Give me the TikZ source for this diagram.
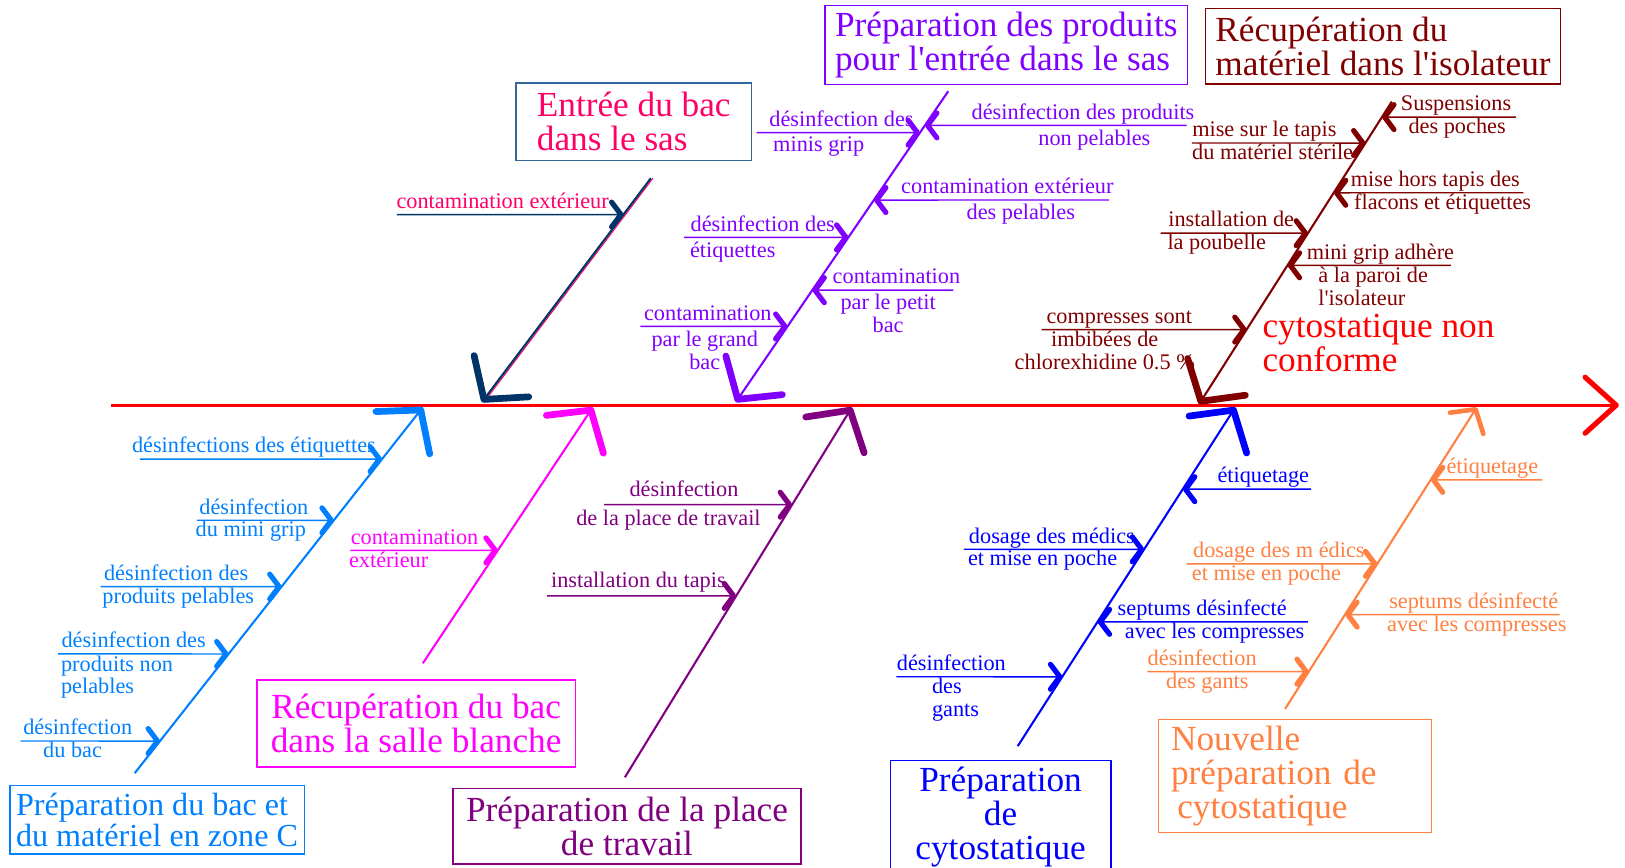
\documentclass[tikz,border=0pt]{standalone}
\usepackage{fontspec}
\setmainfont{Liberation Serif}
\usetikzlibrary{arrows.meta}

\definecolor{spinered}{HTML}{FF0000}
\definecolor{navyb}{HTML}{003366}
\definecolor{navyframe}{HTML}{336699}
\definecolor{rosered}{HTML}{FF0066}
\definecolor{violetb}{HTML}{8000FF}
\definecolor{brownb}{HTML}{800000}
\definecolor{azureb}{HTML}{0080FF}
\definecolor{magentab}{HTML}{FF00FF}
\definecolor{purpleb}{HTML}{800080}
\definecolor{blueb}{HTML}{0000FF}
\definecolor{orangeb}{HTML}{FF8040}

\newcommand{\bigtxt}{\fontsize{34}{33}\selectfont}
\newcommand{\smalltxt}{\fontsize{21.5}{22}\selectfont}
\newcommand{\leftlines}[1]{\begin{tabular}{@{}l@{}}#1\end{tabular}}

\begin{document}
\begin{tikzpicture}[x=1pt, y=-1pt,
    bone/.style={line width=2pt, -{Straight Barb[length=28pt,width=66pt,line width=6.5pt,round]}},
    smallbone/.style={line width=2pt, -{Straight Barb[length=16pt,width=38pt,line width=4.5pt,round]}},
    twig/.style={line width=1.4pt, -{Straight Barb[length=9pt,width=24pt,line width=5pt,round]}},
    cause/.style={draw, line width=1.3pt, font=\bigtxt, inner sep=6pt},
    lbl/.style={font=\smalltxt, inner sep=0pt, align=center}
]
\useasboundingbox (0,0) rectangle (1568,837);
\clip (0,0) rectangle (1568,837);

% spine and effect
\coordinate (start) at (107,391);
\coordinate (effectpt) at (1562,391);
\draw[spinered, line width=3pt, -{Straight Barb[length=30pt,width=54pt,line width=5pt,round]}] (start) -- (effectpt);
\node[font=\bigtxt, text=spinered, align=left, anchor=north west, inner sep=0pt] (effect) at (1218,303) {cytostatique non\\conforme};

% boxes
\node[cause, draw=navyframe, text=rosered, minimum width=227pt, minimum height=75pt, align=left] (sasbox) at (611.5,117.5) {Entrée du bac\\dans le sas};
\node[cause, draw=violetb, text=violetb, minimum width=350pt, minimum height=71pt, align=left] (prodbox) at (971,43.5) {Préparation des produits\\pour l\textquotesingle entrée dans le sas};
\node[cause, draw=brownb, text=brownb, minimum width=343pt, minimum height=73pt, align=left] (isobox) at (1334.5,44.5) {Récupération du\\matériel dans l\textquotesingle isolateur};
\node[cause, draw=azureb, text=azureb, minimum width=283pt, minimum height=66pt, align=left, font=\fontsize{31}{30}\selectfont] (bacbox) at (151.5,791) {Préparation du bac et\\du matériel en zone C};
\node[cause, draw=magentab, text=magentab, minimum width=307pt, minimum height=84pt, align=center] (blanchebox) at (401.5,698) {Récupération du bac\\dans la salle blanche};
\node[cause, draw=purpleb, text=purpleb, minimum width=336pt, inner ysep=8pt, anchor=north, align=center] (placebox) at (605,760) {Préparation de la place\\de travail};
\node[cause, draw=blueb, text=blueb, minimum width=213pt, inner ysep=6pt, anchor=north, align=center] (cytobox) at (965.5,733) {Préparation\\de\\cytostatique};
\node[cause, draw=orangeb, text=orangeb, text width=239pt, inner xsep=12pt, minimum height=106pt, align=left] (newbox) at (1249.5,749) {Nouvelle\\préparation de\\\hspace*{6pt}cytostatique};

% Entree du bac dans le sas
\coordinate (sastop) at (628,172);
\coordinate (sashead) at (465,388);
\draw[rosered, line width=1pt, transform canvas={xshift=2pt}] (sastop) -- (sashead);
\draw[bone, navyb] (sastop) -- (sashead);
\coordinate (sas1) at (383,207);
\coordinate (sasb1) at (intersection of sastop--sashead and 0,207--1568,207);
\draw[twig, navyb] (sas1) -- (sasb1);
\node[lbl, rosered, anchor=base] (sasu1) at (485,201) {contamination extérieur};

% Preparation des produits
\coordinate (prodtop) at (915,88);
\coordinate (prodhead) at (710,388);
\draw[bone, violetb] (prodtop) -- (prodhead);
\foreach \y/\xs/\xa/\ta/\xb/\tb [count=\i] in {
    128/730/812/{désinfection des}/790/{minis grip},
    229/660/736/{désinfection des}/707/{étiquettes},
    315/618/683/{contamination}/680/{par le grand\\bac},
    121/1145/1045/{désinfection des produits}/1056/{non pelables},
    193/1070/972/{contamination extérieur}/985/{des pelables},
    280/920/865/{contamination}/857/{par le petit\\bac}}{
  \coordinate (prod\i) at (\xs,\y);
  \coordinate (prodb\i) at (intersection of prodtop--prodhead and 0,\y--1568,\y);
  \draw[twig, violetb] (prod\i) -- (prodb\i);
  \node[lbl, violetb, anchor=base] (produ\i) at (\xa,\y-6) {\ta};
  \node[lbl, violetb, anchor=north] (prodl\i) at (\xb,\y+4) {\tb};
}

% Recuperation du materiel dans l'isolateur
\coordinate (isotop) at (1343,98);
\coordinate (isohead) at (1157,390);
\draw[bone, brownb] (isotop) -- (isohead);
\foreach \y/\xs/\xa/\ta/\xb/\tb [count=\i] in {
    138/1150/1220/{mise sur le tapis}/1228/{du matériel stérile},
    225/1120/1188/{installation de}/1174/{la poubelle},
    318/1005/1080/{compresses sont}/1066/{imbibées de\\chlorexhidine 0.5 \%},
    113/1463/1405/{Suspensions}/1406/{des poches},
    186/1470/1385/{mise hors tapis des}/1392/{flacons et étiquettes},
    256/1400/1332/{mini grip adhère}/1325/{\leftlines{à la paroi de\\l\textquotesingle isolateur}}}{
  \coordinate (iso\i) at (\xs,\y);
  \coordinate (isob\i) at (intersection of isotop--isohead and 0,\y--1568,\y);
  \draw[twig, brownb] (iso\i) -- (isob\i);
  \node[lbl, brownb, anchor=base] (isou\i) at (\xa,\y-6) {\ta};
  \node[lbl, brownb, anchor=north] (isol\i) at (\xb,\y+1) {\tb};
}

% Preparation du bac et du materiel en zone C
\coordinate (bacfoot) at (130,746);
\coordinate (bachead) at (408,393);
\draw[bone, azureb] (bacfoot) -- (bachead);
\foreach \y/\xs/\xa/\ta/\xb/\tb [count=\i] in {
    443/135/245/{désinfections des étiquettes}/245/{},
    502/190/245/{désinfection}/242/{du mini grip},
    566/97/170/{désinfection des}/172/{produits pelables},
    631/56/129/{désinfection des}/113/{\leftlines{produits non\\pelables}},
    715/20/75/{désinfection}/70/{du bac}}{
  \coordinate (bac\i) at (\xs,\y);
  \coordinate (bacb\i) at (intersection of bacfoot--bachead and 0,\y--1568,\y);
  \draw[twig, azureb] (bac\i) -- (bacb\i);
  \node[lbl, azureb, anchor=base] (bacu\i) at (\xa,\y-6) {\ta};
  \node[lbl, azureb, anchor=north] (bacl\i) at (\xb,\y+1) {\tb};
}

% Recuperation du bac dans la salle blanche
\coordinate (blanchefoot) at (408,640);
\coordinate (blanchehead) at (572,393);
\draw[bone, magentab] (blanchefoot) -- (blanchehead);
\coordinate (blanche1) at (338,531);
\coordinate (blancheb1) at (intersection of blanchefoot--blanchehead and 0,531--1568,531);
\draw[twig, magentab] (blanche1) -- (blancheb1);
\node[lbl, magentab, anchor=base] (blancheu1) at (400,525) {contamination};
\node[lbl, magentab, anchor=north] (blanchel1) at (375,532) {extérieur};

% Preparation de la place de travail
\coordinate (placefoot) at (603,750);
\coordinate (placehead) at (822,393);
\draw[bone, purpleb] (placefoot) -- (placehead);
\foreach \y/\xs/\xa/\ta/\xb/\tb [count=\i] in {
    487/583/660/{désinfection}/645/{de la place de travail},
    575/528/616/{installation du tapis}/616/{}}{
  \coordinate (place\i) at (\xs,\y);
  \coordinate (placeb\i) at (intersection of placefoot--placehead and 0,\y--1568,\y);
  \draw[twig, purpleb] (place\i) -- (placeb\i);
  \node[lbl, purpleb, anchor=base] (placeu\i) at (\xa,\y-8) {\ta};
  \node[lbl, purpleb, anchor=north] (placel\i) at (\xb,\y+5) {\tb};
}

% Preparation de cytostatique
\coordinate (cytofoot) at (982,720);
\coordinate (cytohead) at (1192,393);
\draw[bone, blueb] (cytofoot) -- (cytohead);
\foreach \y/\xs/\xa/\ta/\xb/\tb [count=\i] in {
    530/930/1015/{dosage des médics}/1006/{et mise en poche},
    653/865/918/{désinfection}/922/{\leftlines{des\\gants}},
    472/1265/1219/{étiquetage}/1219/{},
    600/1262/1160/{septums désinfecté}/1172/{avec les compresses}}{
  \coordinate (cyto\i) at (\xs,\y);
  \coordinate (cytob\i) at (intersection of cytofoot--cytohead and 0,\y--1568,\y);
  \draw[twig, blueb] (cyto\i) -- (cytob\i);
  \node[lbl, blueb, anchor=base] (cytou\i) at (\xa,\y-6) {\ta};
  \node[lbl, blueb, anchor=north] (cytol\i) at (\xb,\y+1) {\tb};
}

% Nouvelle preparation de cytostatique
\coordinate (newfoot) at (1240,684);
\coordinate (newhead) at (1425,393);
\draw[smallbone, orangeb] (newfoot) -- (newhead);
\foreach \y/\xs/\xa/\ta/\xb/\tb [count=\i] in {
    544/1145/1234/{dosage des m édics}/1222/{et mise en poche},
    648/1107/1160/{désinfection}/1165/{des gants},
    463/1488/1440/{étiquetage}/1440/{},
    593/1505/1422/{septums désinfecté}/1425/{avec les compresses}}{
  \coordinate (new\i) at (\xs,\y);
  \coordinate (newb\i) at (intersection of newfoot--newhead and 0,\y--1568,\y);
  \draw[twig, orangeb] (new\i) -- (newb\i);
  \node[lbl, orangeb, anchor=base] (newu\i) at (\xa,\y-6) {\ta};
  \node[lbl, orangeb, anchor=north] (newl\i) at (\xb,\y+1) {\tb};
}
\end{tikzpicture}
\end{document}
